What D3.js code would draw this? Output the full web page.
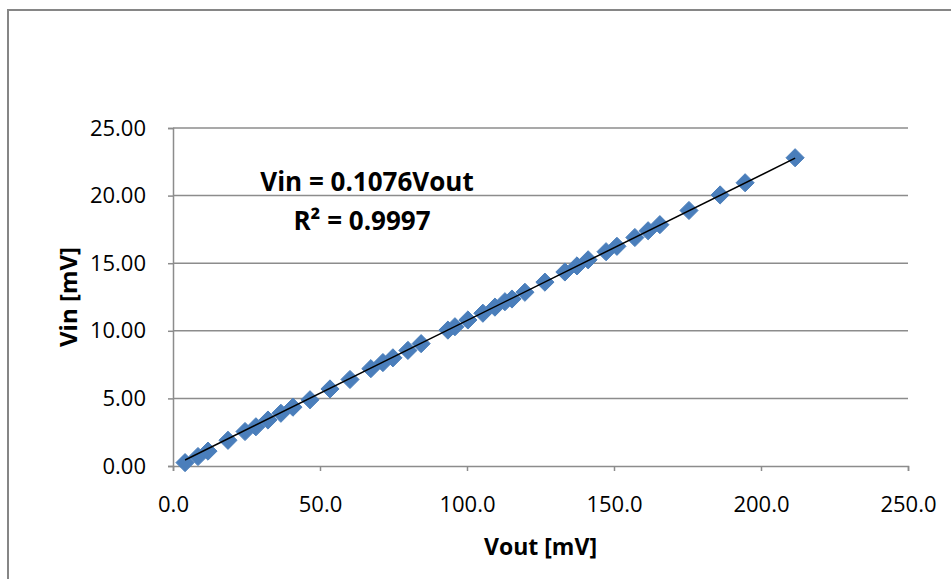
<!DOCTYPE html>
<html>
<head>
<meta charset="utf-8">
<script src="https://cdn.jsdelivr.net/npm/d3@7"></script>
<style>
  body { margin: 0; background: #fff; }
  text { font-family: "Open Sans", "Liberation Sans", sans-serif; fill: #000; }
</style>
</head>
<body>
<div id="chart"></div>
<script>
// Vout / Vin readings (mV)
const vout = [4.1, 8.5, 11.9, 18.7, 24.5, 28.2, 32.3, 36.7, 40.8, 46.6,
  53.4, 60.2, 67.3, 71.4, 74.8, 79.9, 84.4, 93.5, 95.9, 100.3,
  105.4, 109.5, 112.9, 115.3, 119.7, 126.5, 133.3, 137.4, 141.2, 147.3,
  151.0, 157.1, 161.6, 165.6, 175.5, 186.1, 194.6, 211.6];
const vin = [0.25, 0.70, 1.10, 1.90, 2.55, 2.90, 3.40, 3.90, 4.35, 4.90,
  5.70, 6.40, 7.20, 7.65, 8.00, 8.55, 9.05, 10.05, 10.30, 10.80,
  11.30, 11.75, 12.15, 12.35, 12.85, 13.60, 14.35, 14.80, 15.25, 15.85,
  16.25, 16.90, 17.40, 17.85, 18.90, 20.05, 20.95, 22.80];
const xTicks = [0, 50, 100, 150, 200, 250];
const yTicks = [0, 5, 10, 15, 20, 25];
const slope = 0.1076;
const eqLines = ["Vin = 0.1076Vout", "R² = 0.9997"];

const width = 951, height = 579;
const plot = { left: 173, right: 908, top: 128, bottom: 466 };

const svg = d3.select('#chart').append('svg')
    .attr('width', width)
    .attr('height', height);

// outer chart frame (runs off the right and bottom edge)
svg.append('rect')
    .attr('x', 8).attr('y', 10)
    .attr('width', 1000).attr('height', 1000)
    .attr('fill', '#fff')
    .attr('stroke', '#868686')
    .attr('stroke-width', 2);

const x = d3.scaleLinear().domain([0, 250]).range([plot.left, plot.right]);
const y = d3.scaleLinear().domain([0, 25]).range([plot.bottom, plot.top]);

// gridlines
svg.append('g')
    .selectAll('line')
    .data(yTicks.filter(d => d > 0))
    .join('line')
    .attr('x1', plot.left).attr('x2', plot.right)
    .attr('y1', d => y(d)).attr('y2', d => y(d))
    .attr('stroke', '#8c8c8c')
    .attr('stroke-width', 1.5);

// y axis
const yAxis = svg.append('g')
    .attr('transform', `translate(${plot.left},0)`)
    .call(d3.axisLeft(y).tickValues(yTicks).tickSize(5).tickPadding(22)
        .tickFormat(d => d3.format('.2f')(d)));
yAxis.select('.domain').attr('stroke', '#8c8c8c').attr('stroke-width', 1.5);
yAxis.selectAll('.tick line').attr('stroke', '#8c8c8c').attr('stroke-width', 1.5);
yAxis.selectAll('.tick text')
    .attr('font-size', 22)
    .attr('font-family', '"Open Sans", sans-serif')
    .attr('fill', '#000');

// x axis
const xAxis = svg.append('g')
    .attr('transform', `translate(0,${plot.bottom})`)
    .call(d3.axisBottom(x).tickValues(xTicks).tickSize(5).tickPadding(25)
        .tickFormat(d => d3.format('.1f')(d)));
xAxis.select('.domain').attr('stroke', '#8c8c8c').attr('stroke-width', 1.5);
xAxis.selectAll('.tick line').attr('stroke', '#8c8c8c').attr('stroke-width', 1.5);
xAxis.selectAll('.tick text')
    .attr('font-size', 22)
    .attr('font-family', '"Open Sans", sans-serif')
    .attr('fill', '#000');

// data markers (diamonds)
const points = vout.map((v, i) => ({ vout: v, vin: vin[i] }));
const diamond = d3.symbol().type(d3.symbolDiamond2).size(210);
svg.append('g')
    .selectAll('path')
    .data(points)
    .join('path')
    .attr('d', diamond)
    .attr('transform', d => `translate(${x(d.vout)},${y(d.vin)})`)
    .attr('fill', '#4a7ebb')
    .attr('stroke', '#4a7ebb')
    .attr('stroke-width', 1);

// linear trendline through origin
const xMin = d3.min(vout), xMax = d3.max(vout);
svg.append('line')
    .attr('x1', x(xMin)).attr('y1', y(slope * xMin))
    .attr('x2', x(xMax)).attr('y2', y(slope * xMax))
    .attr('stroke', '#000')
    .attr('stroke-width', 1.5);

// trendline equation
svg.append('text')
    .attr('x', 367).attr('y', 191)
    .attr('text-anchor', 'middle')
    .attr('font-size', 26)
    .attr('font-weight', 'bold')
    .text(eqLines[0]);
svg.append('text')
    .attr('x', 362).attr('y', 230)
    .attr('text-anchor', 'middle')
    .attr('font-size', 26)
    .attr('font-weight', 'bold')
    .text(eqLines[1]);

// axis titles
svg.append('text')
    .attr('x', (plot.left + plot.right) / 2)
    .attr('y', 555)
    .attr('text-anchor', 'middle')
    .attr('font-size', 23)
    .attr('font-weight', 'bold')
    .text('Vout [mV]');
svg.append('text')
    .attr('transform', `translate(77,${(plot.top + plot.bottom) / 2}) rotate(-90)`)
    .attr('text-anchor', 'middle')
    .attr('font-size', 24)
    .attr('font-weight', 'bold')
    .text('Vin [mV]');
</script>
</body>
</html>
